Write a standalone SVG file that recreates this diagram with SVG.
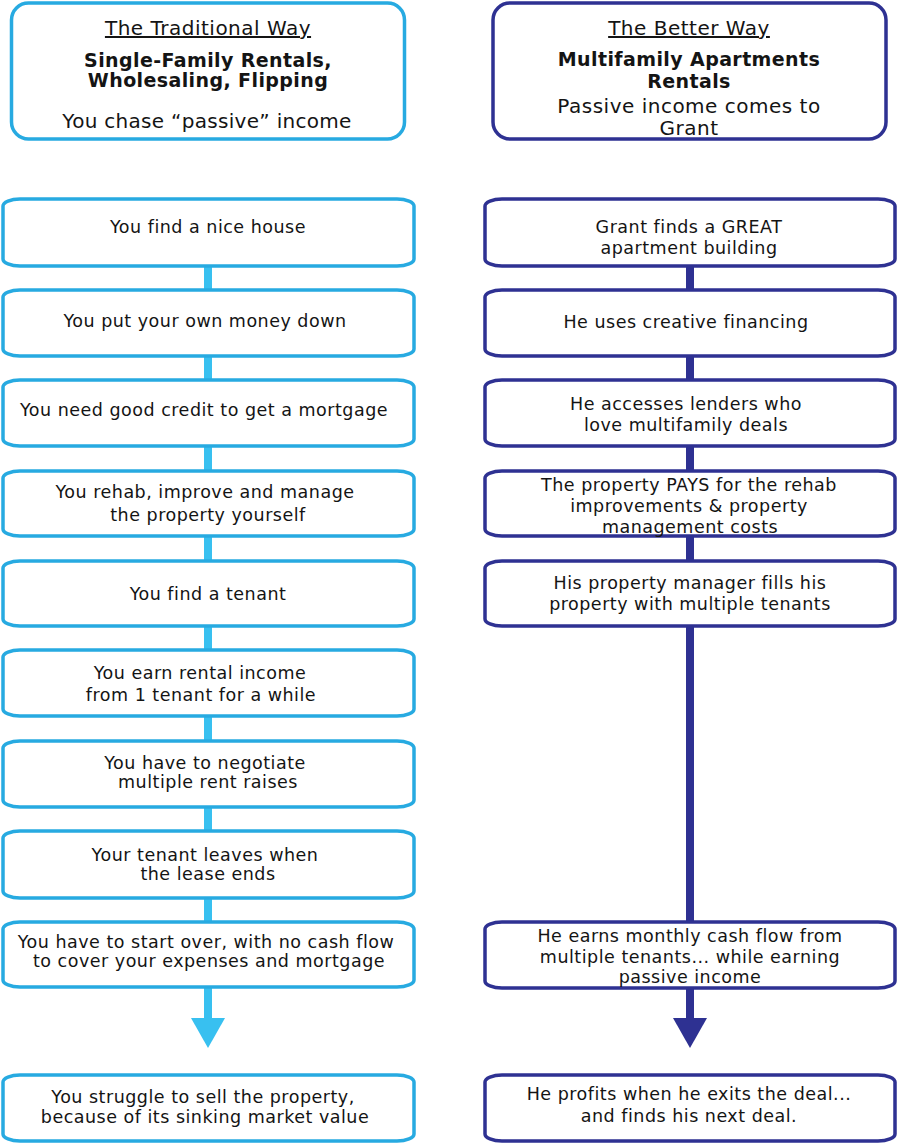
<svg xmlns="http://www.w3.org/2000/svg" width="898" height="1145" viewBox="0 0 898 1145">
<style>
text{font-family:"DejaVu Sans","Noto Sans",sans-serif;fill:#141414;text-anchor:middle}
.s{font-size:17.5px;letter-spacing:0.5px}
.h{font-size:20px;letter-spacing:0.5px}
.b{font-size:19px;font-weight:bold;letter-spacing:0.4px}
.l{fill:#fff;stroke:#27aae1;stroke-width:3.5}
.r{fill:#fff;stroke:#2e3192;stroke-width:3.5}
.cl{stroke:#38c0f0;stroke-width:8}
.cr{stroke:#2e3192;stroke-width:8}
</style>
<rect width="898" height="1145" fill="#fff"/>
<g id="connectors">
<line class="cl" x1="208" y1="266" x2="208" y2="290"/>
<line class="cl" x1="208" y1="356" x2="208" y2="380"/>
<line class="cl" x1="208" y1="446" x2="208" y2="471"/>
<line class="cl" x1="208" y1="536" x2="208" y2="561"/>
<line class="cl" x1="208" y1="626" x2="208" y2="650"/>
<line class="cl" x1="208" y1="716" x2="208" y2="741"/>
<line class="cl" x1="208" y1="807" x2="208" y2="831"/>
<line class="cl" x1="208" y1="898" x2="208" y2="922"/>
<line class="cl" x1="208" y1="987" x2="208" y2="1020"/>
<polygon fill="#38c0f0" points="191,1018 225,1018 208,1048"/>
<line class="cr" x1="690" y1="266" x2="690" y2="290"/>
<line class="cr" x1="690" y1="356" x2="690" y2="380"/>
<line class="cr" x1="690" y1="446" x2="690" y2="471"/>
<line class="cr" x1="690" y1="536" x2="690" y2="561"/>
<line class="cr" x1="690" y1="626" x2="690" y2="922"/>
<line class="cr" x1="690" y1="988" x2="690" y2="1020"/>
<polygon fill="#2e3192" points="673,1018 707,1018 690,1048"/>
</g>
<g id="head-left">
<rect class="l" x="11.5" y="3" width="393" height="136" rx="17" ry="17" stroke-width="4"/>
<text class="h" x="208" y="35" text-decoration="underline">The Traditional Way</text>
<text class="b" x="208" y="67">Single-Family Rentals,</text>
<text class="b" x="208" y="87">Wholesaling, Flipping</text>
<text class="h" x="207" y="128" style="letter-spacing:0.3px">You chase “passive” income</text>
</g>
<g id="head-right">
<rect class="r" x="493" y="3" width="393" height="136" rx="17" ry="17" stroke-width="4"/>
<text class="h" x="689" y="35" text-decoration="underline">The Better Way</text>
<text class="b" x="689" y="66">Multifamily Apartments</text>
<text class="b" x="689" y="88">Rentals</text>
<text class="h" x="689" y="113">Passive income comes to</text>
<text class="h" x="689" y="135">Grant</text>
</g>
<g id="l1"><rect class="l" x="3" y="199" width="411" height="67" rx="17" ry="7"/><text class="s" x="208" y="233">You find a nice house</text></g>
<g id="l2"><rect class="l" x="3" y="290" width="411" height="66" rx="17" ry="7"/><text class="s" x="205" y="327">You put your own money down</text></g>
<g id="l3"><rect class="l" x="3" y="380" width="411" height="66" rx="17" ry="7"/><text class="s" x="204" y="416">You need good credit to get a mortgage</text></g>
<g id="l4"><rect class="l" x="3" y="471" width="411" height="65" rx="17" ry="7"/><text class="s" x="205" y="498">You rehab, improve and manage</text><text class="s" x="208" y="521">the property yourself</text></g>
<g id="l5"><rect class="l" x="3" y="561" width="411" height="65" rx="17" ry="7"/><text class="s" x="208" y="600">You find a tenant</text></g>
<g id="l6"><rect class="l" x="3" y="650" width="411" height="66" rx="17" ry="7"/><text class="s" x="200" y="679">You earn rental income</text><text class="s" x="201" y="701">from 1 tenant for a while</text></g>
<g id="l7"><rect class="l" x="3" y="741" width="411" height="66" rx="17" ry="7"/><text class="s" x="205" y="769">You have to negotiate</text><text class="s" x="208" y="788">multiple rent raises</text></g>
<g id="l8"><rect class="l" x="3" y="831" width="411" height="67" rx="17" ry="7"/><text class="s" x="205" y="861">Your tenant leaves when</text><text class="s" x="208" y="880">the lease ends</text></g>
<g id="l9"><rect class="l" x="3" y="922" width="411" height="65" rx="17" ry="7"/><text class="s" x="206" y="948">You have to start over, with no cash flow</text><text class="s" x="209" y="967">to cover your expenses and mortgage</text></g>
<g id="l10"><rect class="l" x="3" y="1075" width="411" height="66" rx="17" ry="7"/><text class="s" x="203" y="1103">You struggle to sell the property,</text><text class="s" x="205" y="1123">because of its sinking market value</text></g>
<g id="r1"><rect class="r" x="485" y="199" width="410" height="67" rx="17" ry="7"/><text class="s" x="689" y="233">Grant finds a GREAT</text><text class="s" x="689" y="254">apartment building</text></g>
<g id="r2"><rect class="r" x="485" y="290" width="410" height="66" rx="17" ry="7"/><text class="s" x="686" y="328">He uses creative financing</text></g>
<g id="r3"><rect class="r" x="485" y="380" width="410" height="66" rx="17" ry="7"/><text class="s" x="686" y="410">He accesses lenders who</text><text class="s" x="686" y="431">love multifamily deals</text></g>
<g id="r4"><rect class="r" x="485" y="471" width="410" height="65" rx="17" ry="7"/><text class="s" x="689" y="491">The property PAYS for the rehab</text><text class="s" x="689" y="512">improvements &amp; property</text><text class="s" x="690" y="533">management costs</text></g>
<g id="r5"><rect class="r" x="485" y="561" width="410" height="65" rx="17" ry="7"/><text class="s" x="690" y="589">His property manager fills his</text><text class="s" x="690" y="610">property with multiple tenants</text></g>
<g id="r6"><rect class="r" x="485" y="922" width="410" height="66" rx="17" ry="7"/><text class="s" x="690" y="942">He earns monthly cash flow from</text><text class="s" x="690" y="963">multiple tenants... while earning</text><text class="s" x="690" y="983">passive income</text></g>
<g id="r7"><rect class="r" x="485" y="1075" width="410" height="66" rx="17" ry="7"/><text class="s" x="689" y="1100">He profits when he exits the deal...</text><text class="s" x="689" y="1122">and finds his next deal.</text></g>
</svg>
